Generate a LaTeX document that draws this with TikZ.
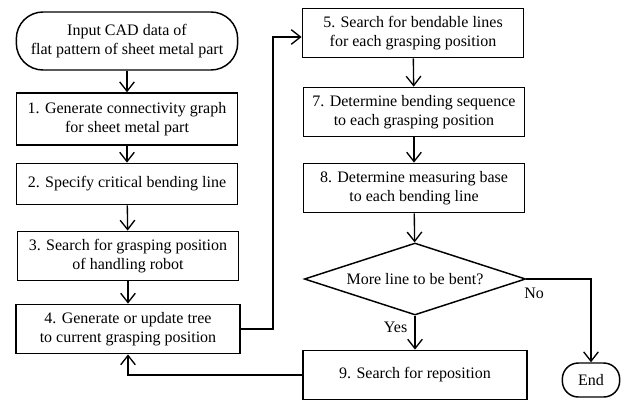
\documentclass[tikz,border=0pt]{standalone}
\usepackage{fontspec}
\setmainfont{Liberation Serif}
\usepackage{tikz}
\usetikzlibrary{arrows.meta,shapes.geometric}
\tikzstyle{stepbox}=[
        draw,
        line width=1.1pt,
        align=center,
        minimum width=166pt,
        minimum height=37pt,
        inner sep=2pt
]
\tikzstyle{terminal}=[
        stepbox,
        rounded corners=20pt
]
\tikzstyle{decision}=[
        draw,
        diamond,
        line width=1.1pt,
        aspect=3,
        inner sep=0pt,
        minimum width=166pt,
        minimum height=54pt
]
\tikzstyle{flow}=[
        line width=1pt,
        -{Straight Barb[length=7pt,width=11pt,line width=1pt]}
]

\begin{document}
\begin{tikzpicture}[x=0.75pt,y=-0.75pt,font=\fontsize{12}{14.4}\selectfont]
                        \useasboundingbox (0,0) rectangle (625,401);

                        \node[terminal, minimum height=43.5pt] (start) at (127,41) {Input CAD data of\\flat pattern of sheet metal part};
                        \node[stepbox, minimum height=39pt] (s1) at (127,119) {1. Generate connectivity graph\\for sheet metal part};
                        \node[stepbox, minimum height=31pt] (s2) at (127,184) {2. Specify critical bending line};
                        \node[stepbox] (s3) at (128,256) {3. Search for grasping position\\of handling robot};
                        \node[stepbox, minimum width=168pt] (s4) at (128,329) {4. Generate or update tree\\to current grasping position};

                        \node[stepbox] (s5) at (413,33) {5. Search for bendable lines\\for each grasping position};
                        \node[stepbox] (s7) at (414,112) {7. Determine bending sequence\\to each grasping position};
                        \node[stepbox] (s8) at (414,188) {8. Determine measuring base\\to each bending line};
                        \node[decision] (more) at (415,279) {More line to be bent?};
                        \node[stepbox, minimum width=168pt] (s9) at (415,375) {9. Search for reposition};
                        \node[terminal, minimum width=43pt, minimum height=25.5pt, rounded corners=12pt] (end) at (591,380) {End};

                        \coordinate (up) at (273,37);

                        \draw[flow] (start) -- (s1);
                        \draw[flow] (s1) -- (s2);
                        \draw[flow] (s2) -- (s3);
                        \draw[flow] (s3) -- (s4);
                        \draw[flow] (s4.east) -- (s4.east -| up) -- (up) -- (up -| s5.west);
                        \draw[flow] (s5) -- (s7);
                        \draw[flow] (s7) -- (s8);
                        \draw[flow] (s8) -- (more);
                        \draw[flow] (more) -- node[pos=0.35, left=2pt] (yes) {Yes} (s9);
                        \draw[flow] (more.east) -| node[pos=0.06, below=3pt] (no) {No} (end.north);
                        \draw[flow] (s9.west) -| (s4.south);

                    \end{tikzpicture}
\end{document}
